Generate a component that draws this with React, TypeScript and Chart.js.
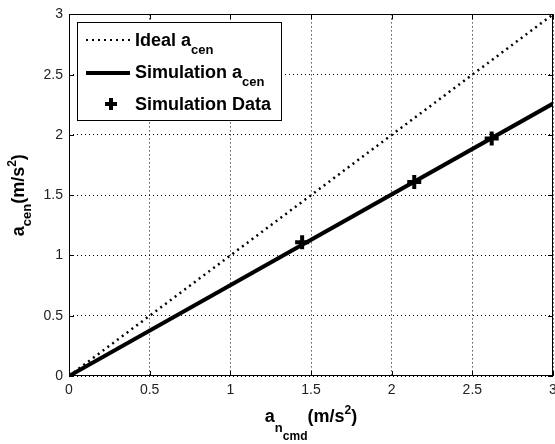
import React, { useEffect, useRef } from "react";
import { Chart, registerables } from "chart.js";

Chart.register(...registerables);

// ---- data ----
const idealX = [0, 3];
const idealY = [0, 3];
const simLineX = [0, 3];
const simLineY = [0, 2.26];
const simDataX = [1.445, 2.14, 2.62];
const simDataY = [1.11, 1.61, 1.97];
const xTicks = [0, 0.5, 1, 1.5, 2, 2.5, 3];
const yTicks = [0, 0.5, 1, 1.5, 2, 2.5, 3];

const FONT = '"Liberation Sans", Arial, Helvetica, sans-serif';

type Part = { t: string; s: number; dy: number };

function drawRich(ctx: CanvasRenderingContext2D, x: number, y: number, parts: Part[], center: boolean) {
  let total = 0;
  for (const p of parts) {
    ctx.font = `bold ${p.s}px ${FONT}`;
    total += ctx.measureText(p.t).width;
  }
  let cx = center ? x - total / 2 : x;
  ctx.textAlign = "left";
  ctx.textBaseline = "alphabetic";
  for (const p of parts) {
    ctx.font = `bold ${p.s}px ${FONT}`;
    ctx.fillText(p.t, cx, y + p.dy);
    cx += ctx.measureText(p.t).width;
  }
}

const decorPlugin = {
  id: "decor",
  afterDatasetsDraw(chart: any) {
    const ctx: CanvasRenderingContext2D = chart.ctx;
    const { left, right, top, bottom } = chart.chartArea;
    const xs = chart.scales.x;
    const ys = chart.scales.y;
    ctx.save();
    ctx.strokeStyle = "#000";
    ctx.lineWidth = 1;
    ctx.setLineDash([]);
    ctx.beginPath();
    const L = 5;
    for (const v of xTicks) {
      const px = Math.round(xs.getPixelForValue(v)) + 0.5;
      ctx.moveTo(px, bottom);
      ctx.lineTo(px, bottom - L);
      ctx.moveTo(px, top);
      ctx.lineTo(px, top + L);
    }
    for (const v of yTicks) {
      const py = Math.round(ys.getPixelForValue(v)) + 0.5;
      ctx.moveTo(left, py);
      ctx.lineTo(left + L, py);
      ctx.moveTo(right, py);
      ctx.lineTo(right - L, py);
    }
    ctx.stroke();
    ctx.strokeRect(Math.round(left) + 0.5, Math.round(top) + 0.5, Math.round(right - left) - 1, Math.round(bottom - top) - 1);
    ctx.restore();
  },
  afterDraw(chart: any) {
    const ctx: CanvasRenderingContext2D = chart.ctx;
    const { left, right, top, bottom } = chart.chartArea;
    ctx.save();
    ctx.fillStyle = "#000";
    // x title
    drawRich(
      ctx,
      (left + right) / 2,
      422,
      [
        { t: "a", s: 18, dy: 0 },
        { t: "n", s: 13, dy: 10 },
        { t: "cmd", s: 12, dy: 18 },
        { t: "(m/s", s: 18, dy: 0 },
        { t: "2", s: 12, dy: -8 },
        { t: ")", s: 18, dy: 0 },
      ],
      true
    );
    // y title
    ctx.save();
    ctx.translate(24, (top + bottom) / 2);
    ctx.rotate(-Math.PI / 2);
    drawRich(
      ctx,
      0,
      0,
      [
        { t: "a", s: 18, dy: 0 },
        { t: "cen", s: 13, dy: 7 },
        { t: "(m/s", s: 18, dy: 0 },
        { t: "2", s: 12, dy: -8 },
        { t: ")", s: 18, dy: 0 },
      ],
      true
    );
    ctx.restore();

    // legend
    ctx.fillStyle = "#fff";
    ctx.fillRect(77.5, 22.5, 204, 98);
    ctx.strokeStyle = "#000";
    ctx.lineWidth = 1;
    ctx.strokeRect(77.5, 22.5, 204, 98);

    ctx.strokeStyle = "#000";
    ctx.lineWidth = 2;
    ctx.setLineDash([2, 4]);
    ctx.beginPath();
    ctx.moveTo(86, 40);
    ctx.lineTo(130, 40);
    ctx.stroke();
    ctx.setLineDash([]);
    ctx.lineWidth = 4;
    ctx.beginPath();
    ctx.moveTo(86, 73);
    ctx.lineTo(130, 73);
    ctx.stroke();
    ctx.beginPath();
    ctx.moveTo(111 - 6, 104);
    ctx.lineTo(111 + 6, 104);
    ctx.moveTo(111, 104 - 6);
    ctx.lineTo(111, 104 + 6);
    ctx.stroke();

    ctx.fillStyle = "#000";
    drawRich(ctx, 135, 46, [{ t: "Ideal a", s: 18, dy: 0 }, { t: "cen", s: 13, dy: 8 }], false);
    drawRich(ctx, 135, 78, [{ t: "Simulation a", s: 18, dy: 0 }, { t: "cen", s: 13, dy: 8 }], false);
    drawRich(ctx, 135, 110, [{ t: "Simulation Data", s: 18, dy: 0 }], false);
    ctx.restore();
  },
};

const fmt = (v: any) => String(Number(v));

export default function App() {
  const ref = useRef<HTMLCanvasElement | null>(null);
  useEffect(() => {
    if (!ref.current) return;
    const toPts = (xs: number[], ys: number[]) => xs.map((x, i) => ({ x, y: ys[i] }));
    const gridCommon = {
      color: "#000",
      lineWidth: 1,
      drawTicks: false,
    };
    const chart = new Chart(ref.current, {
      type: "scatter",
      data: {
        datasets: [
          {
            label: "Ideal",
            data: toPts(idealX, idealY),
            showLine: true,
            borderColor: "#000",
            borderWidth: 2.5,
            borderDash: [2, 4],
            pointRadius: 0,
          },
          {
            label: "Simulation",
            data: toPts(simLineX, simLineY),
            showLine: true,
            borderColor: "#000",
            borderWidth: 4,
            pointRadius: 0,
          },
          {
            label: "Simulation Data",
            data: toPts(simDataX, simDataY),
            showLine: false,
            pointStyle: "cross",
            pointRadius: 7,
            borderColor: "#000",
            backgroundColor: "#000",
            borderWidth: 4,
          },
        ],
      },
      options: {
        animation: false,
        responsive: false,
        devicePixelRatio: 1,
        layout: { padding: { left: 0, top: 14, right: 12, bottom: 0 } },
        plugins: { legend: { display: false }, tooltip: { enabled: false } },
        scales: {
          x: {
            type: "linear",
            min: 0,
            max: 3,
            afterBuildTicks: (s: any) => {
              s.ticks = xTicks.map((v) => ({ value: v }));
            },
            afterFit: (s: any) => {
              s.height = 68;
            },
            grid: gridCommon,
            border: { display: false, dash: [1, 3] },
            ticks: {
              autoSkip: false,
              maxRotation: 0,
              padding: 6,
              color: "#222",
              font: { family: FONT, size: 14 },
              callback: fmt,
            },
          },
          y: {
            type: "linear",
            min: 0,
            max: 3,
            afterBuildTicks: (s: any) => {
              s.ticks = yTicks.map((v) => ({ value: v }));
            },
            afterFit: (s: any) => {
              s.width = 69;
            },
            grid: gridCommon,
            border: { display: false, dash: [1, 3] },
            ticks: {
              autoSkip: false,
              padding: 6,
              color: "#222",
              font: { family: FONT, size: 14 },
              callback: fmt,
            },
          },
        },
      },
      plugins: [decorPlugin],
    } as any);
    return () => chart.destroy();
  }, []);
  return (
    <div style={{ position: "fixed", left: 0, top: 0, width: 555, height: 444, overflow: "hidden", background: "#fff" }}>
      <canvas ref={ref} width={565} height={444} style={{ display: "block" }} />
    </div>
  );
}
